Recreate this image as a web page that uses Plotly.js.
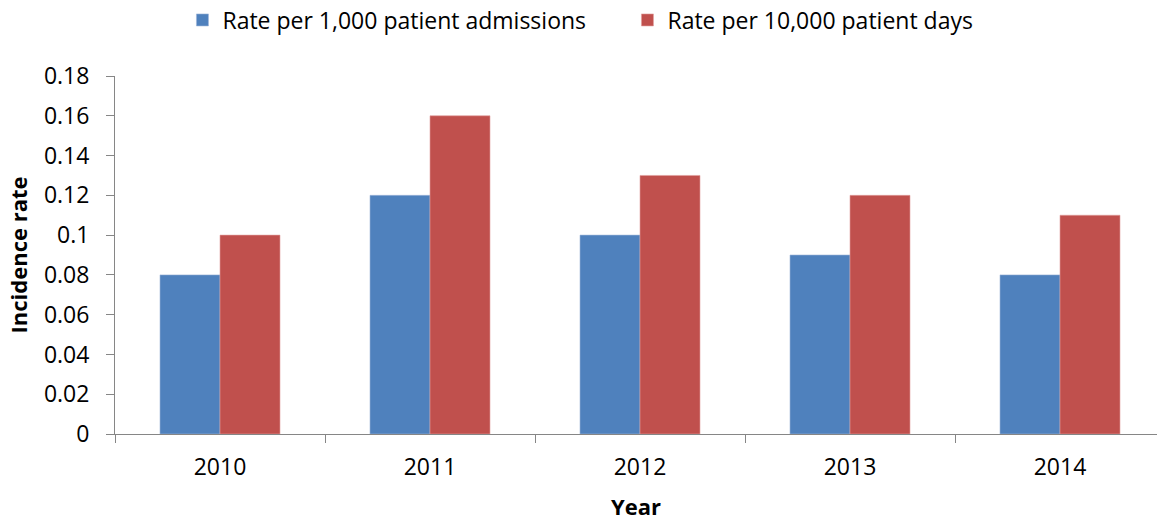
<!DOCTYPE html>
<html>
<head>
<meta charset="utf-8">
<script src="https://cdn.plot.ly/plotly-3.0.1.min.js"></script>
<style>html,body{margin:0;padding:0;background:#fff;}#chart{width:1157px;height:521px;}</style>
</head>
<body>
<div id="chart"></div>
<script>
const years = ["2010", "2011", "2012", "2013", "2014"];
const ratePerAdmissions = [0.08, 0.12, 0.10, 0.09, 0.08];
const ratePerDays = [0.10, 0.16, 0.13, 0.12, 0.11];
const yTicks = [0, 0.02, 0.04, 0.06, 0.08, 0.1, 0.12, 0.14, 0.16, 0.18];
const yTickText = ["0", "0.02", "0.04", "0.06", "0.08", "0.1", "0.12", "0.14", "0.16", "0.18"];

const FONT = "'Open Sans', 'Liberation Sans', sans-serif";

const traces = [
  {type: "bar", name: "Rate per 1,000 patient admissions", x: years, y: ratePerAdmissions,
   marker: {color: "#4F81BD", line: {color: "#9DB5D8", width: 0.6}}},
  {type: "bar", name: "Rate per 10,000 patient days", x: years, y: ratePerDays,
   marker: {color: "#C0504D", line: {color: "#E0A09E", width: 0.6}}}
];

const layout = {
  width: 1157, height: 521,
  paper_bgcolor: "#fff", plot_bgcolor: "#fff",
  margin: {l: 115, r: 0, t: 76, b: 87},
  font: {family: FONT, size: 23, color: "#000"},
  barmode: "group",
  bargap: 0.4286,
  bargroupgap: 0,
  showlegend: true,
  legend: {orientation: "h", x: 569/1157, xanchor: "center", xref: "paper",
           y: 1 - 20/521, yref: "container", yanchor: "middle",
           font: {family: FONT, size: 23, color: "#000"},
           traceorder: "normal", entrywidth: 400, entrywidthmode: "pixels"},
  xaxis: {type: "category", range: [-0.5, -0.5 + 1042/210], tickson: "boundaries",
          ticks: "outside", ticklen: 8, tickcolor: "#868686", tickwidth: 1,
          showline: true, linecolor: "#868686", linewidth: 1,
          showgrid: false, zeroline: false, ticklabelstandoff: 12,
          tickfont: {family: FONT, size: 23},
          title: {text: "Year", font: {family: FONT, size: 22, weight: "bold"}, standoff: 20}},
  yaxis: {range: [0, 0.18], tickvals: yTicks, ticktext: yTickText,
          ticks: "outside", ticklen: 8, tickcolor: "#868686", tickwidth: 1,
          showline: true, linecolor: "#868686", linewidth: 1,
          showgrid: false, zeroline: false, ticklabelstandoff: 12,
          tickfont: {family: FONT, size: 23},
          title: {text: "Incidence rate", font: {family: FONT, size: 22, weight: "bold"}, standoff: 10}}
};

Plotly.newPlot("chart", traces, layout, {displayModeBar: false, staticPlot: true});
</script>
</body>
</html>
